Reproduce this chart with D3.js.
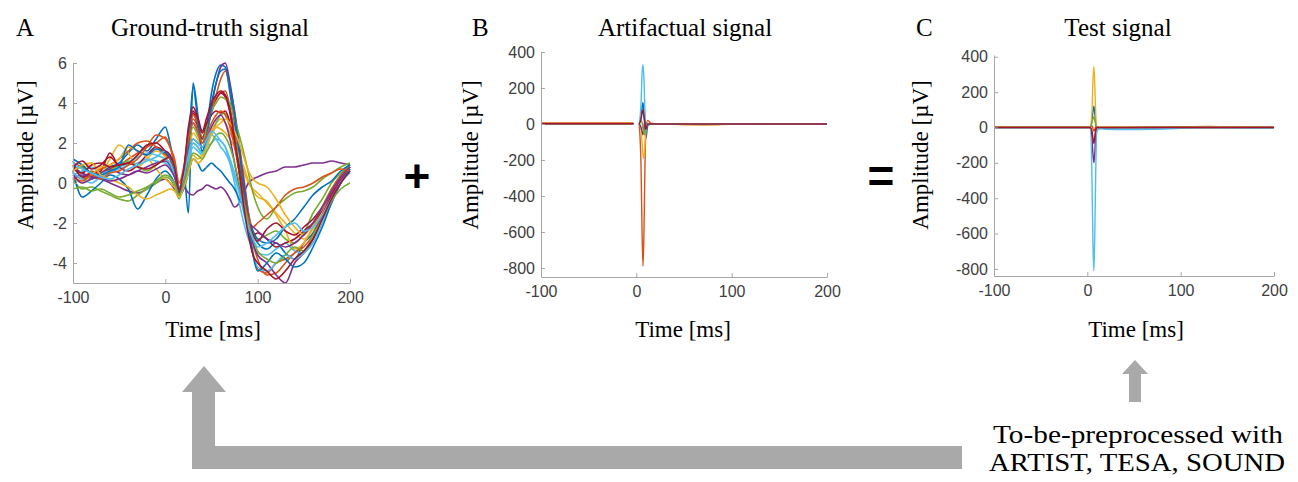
<!DOCTYPE html>
<html>
<head>
<meta charset="utf-8">
<script src="https://cdn.jsdelivr.net/npm/d3@7"></script>
<style>
  body { margin: 0; background: #fff; }
  svg { display: block; }
</style>
</head>
<body>
<div id="fig"></div>
<script>
// MATLAB default colour order
const colors = ["#0072BD", "#D95319", "#EDB120", "#7E2F8E", "#77AC30", "#4DBEEE", "#A2142F"];

// time axis for panel A (ms)
const timeA = [-100, -90, -80, -70, -60, -50, -40, -30, -20, -10, 0,
  5, 10, 15, 20, 25, 30, 35, 40, 45, 50, 55, 60, 65, 70, 75, 80, 85, 90, 95, 100,
  110, 120, 130, 140, 150, 160, 170, 180, 190, 200];

// ground-truth traces (uV), one per channel
const truth = [
  [1.1,0.3,0.2,0.5,0.8,1.0,1.5,1.9,1.6,2.2,2.8, 2.0,0.8,-0.5,0.5,-1.5,5.0,3.5,1.5,2.8,4.5,5.5,5.9,5.8,4.5,3.0,1.5,0.0,-1.5,-2.5,-3.0, -3.3,-3.0,-3.5,-3.8,-3.0,-2.5,-1.5,-0.5,0.3,0.8],
  [0.5,0.2,0.6,0.4,0.7,0.9,1.2,1.5,1.8,2.0,2.3, 1.8,1.0,-0.3,0.3,1.8,3.2,2.8,2.0,2.6,3.5,4.2,4.5,4.6,3.8,2.5,1.0,-0.5,-2.0,-3.5,-4.3, -4.5,-4.0,-3.8,-3.5,-3.0,-2.2,-1.2,-0.3,0.4,0.9],
  [0.0,0.6,1.0,0.5,1.2,1.9,1.5,0.8,1.2,1.6,1.3, 0.9,0.5,-0.2,0.4,1.5,2.5,2.2,1.8,2.0,2.6,3.0,3.2,3.0,2.5,2.0,1.2,0.6,0.0,-0.3,-0.5, -1.0,-1.5,-2.0,-2.5,-2.8,-2.3,-1.5,-0.6,0.2,0.5],
  [0.8,0.5,0.3,0.2,0.0,-0.2,-0.4,-0.5,-0.3,0.0,0.2, 0.0,-0.3,-0.6,-0.2,-0.5,-0.6,-0.4,-0.3,-0.1,-0.2,-0.3,-0.2,-0.4,-0.8,-1.2,-1.0,-0.5,0.0,0.2,0.3, 0.5,0.6,0.8,0.8,0.9,1.0,1.0,1.1,1.0,0.9],
  [0.2,-0.3,-0.2,-0.4,-0.6,-0.8,-0.9,-0.6,-0.3,0.0,0.3, 0.2,-0.2,-0.8,0.0,1.2,2.0,1.8,1.5,1.9,2.5,3.0,3.4,3.5,3.0,2.2,1.0,-0.5,-1.8,-2.5,-2.8, -2.6,-2.4,-2.8,-3.0,-2.5,-1.5,-0.8,0.0,0.5,0.9],
  [0.4,0.6,0.8,0.5,0.6,0.7,0.9,1.0,1.2,1.1,1.0, 0.8,0.3,-0.4,0.2,1.0,1.8,1.6,1.4,1.8,2.0,2.2,2.1,1.8,1.0,0.0,-1.0,-2.0,-2.8,-3.2,-3.5, -3.6,-3.3,-3.0,-3.4,-3.5,-2.8,-1.8,-0.8,0.0,0.6],
  [0.9,0.3,0.5,0.6,1.5,0.8,0.6,0.9,1.4,1.8,1.5, 1.2,0.6,-0.4,0.5,2.0,3.5,2.9,2.2,3.0,3.8,4.2,4.5,4.3,3.5,2.0,0.5,-1.0,-2.2,-2.6,-2.5, -2.8,-3.2,-3.0,-2.8,-2.4,-2.0,-1.4,-0.6,0.2,0.8],
  [0.6,-0.7,-0.4,0.0,0.4,0.2,-0.3,-1.3,-0.6,0.2,0.6, 0.4,0.0,-0.6,-0.3,0.5,1.2,1.0,0.6,0.8,1.0,0.8,0.6,0.3,0.0,-0.3,-0.8,-1.2,-1.8,-2.4,-2.8, -3.0,-2.8,-2.2,-1.8,-1.2,-0.6,-0.2,0.1,0.6,0.9],
  [1.0,0.8,0.5,0.7,0.9,1.2,1.6,2.0,2.1,1.8,1.4, 1.2,0.7,-0.2,0.6,2.4,3.4,3.0,2.3,2.8,3.6,4.4,5.2,5.6,4.8,3.6,2.0,0.3,-1.5,-3.0,-3.8, -4.6,-4.5,-4.0,-3.5,-3.2,-2.6,-1.6,-0.6,0.2,0.6],
  [0.3,0.0,0.4,0.8,0.9,1.2,1.8,1.6,1.3,0.7,0.2, 0.0,-0.2,-0.5,0.0,0.8,1.4,1.2,1.4,2.0,2.6,2.8,2.7,2.5,2.2,1.8,1.3,0.8,0.1,-0.4,-0.7, -0.9,-1.6,-2.4,-3.3,-3.0,-2.2,-1.5,-0.5,0.3,0.7],
  [0.2,0.4,0.3,0.5,0.7,0.5,0.4,0.6,0.8,1.0,1.1, 0.9,0.4,-0.5,0.4,2.0,3.0,2.6,2.2,2.9,4.0,5.0,5.8,6.0,5.0,3.5,1.8,0.0,-1.8,-3.0,-3.6, -4.0,-4.6,-5.0,-4.0,-3.5,-2.8,-1.6,-0.6,0.2,0.7],
  [0.6,0.8,0.5,0.3,0.6,0.9,1.1,0.8,0.6,0.9,1.2, 1.0,0.6,-0.3,0.5,1.8,2.8,2.4,2.0,2.8,3.6,4.0,4.3,4.2,4.0,3.2,2.4,1.5,0.5,-0.5,-1.2, -1.8,-1.2,-0.8,-0.5,-0.4,-0.2,0.2,0.5,0.8,1.0],
  [0.5,0.2,0.0,0.3,0.5,0.8,1.0,1.3,1.5,1.4,1.2, 1.0,0.4,-0.3,0.3,1.2,2.0,1.8,1.5,2.0,2.4,2.2,1.8,1.5,1.0,0.3,-0.5,-1.5,-2.5,-3.6,-4.2, -4.4,-4.0,-3.6,-3.8,-3.5,-3.0,-2.0,-1.0,0.0,0.5],
  [0.7,0.5,0.9,1.0,0.8,0.9,1.0,0.8,0.7,0.9,1.2, 1.3,0.8,-0.4,0.6,2.6,3.6,3.2,2.5,3.0,3.4,3.6,3.5,3.6,3.0,2.0,0.8,-0.5,-1.8,-2.6,-2.9, -2.3,-2.0,-2.4,-2.6,-2.2,-1.8,-1.2,-0.5,0.3,0.8],
  [1.2,0.9,0.5,0.4,0.6,0.8,1.9,1.6,1.4,1.7,1.5, 1.3,0.7,-0.6,-0.2,1.8,4.8,3.2,1.6,2.4,3.8,5.0,5.6,5.7,4.8,3.4,1.6,-0.2,-2.0,-3.6,-4.4, -4.0,-3.5,-3.8,-4.2,-4.0,-3.2,-2.2,-1.0,0.0,0.7],
  [0.3,0.1,0.4,0.2,0.5,0.6,0.9,1.2,1.8,2.4,2.2, 1.8,1.2,0.0,0.8,2.2,3.0,2.6,2.0,2.4,3.0,3.4,3.6,3.4,2.8,1.8,0.6,-0.8,-1.8,-2.2,-2.0, -1.6,-1.2,-0.6,-0.3,-0.2,0.0,0.3,0.5,0.7,0.6],
  [0.6,0.9,1.0,0.4,0.2,0.0,-0.2,-0.6,-0.8,-0.6,-0.4, -0.3,-0.4,-0.7,-0.2,0.5,1.2,1.0,1.2,1.8,2.4,2.8,3.0,3.2,3.0,2.6,2.0,1.3,0.6,0.2,0.0, -0.2,-0.8,-1.6,-2.2,-2.6,-2.0,-1.2,-0.4,0.3,0.8],
  [0.4,0.0,0.2,0.3,0.1,0.2,0.4,0.6,0.5,0.7,0.9, 0.7,0.3,-0.4,0.2,1.5,2.2,2.0,1.8,2.2,2.8,3.2,3.4,3.0,2.2,1.0,-0.2,-1.3,-2.0,-2.2,-2.4, -2.8,-3.0,-3.2,-3.0,-2.6,-2.0,-1.2,-0.4,0.3,0.8],
  [-0.3,-0.2,-0.4,-0.3,-0.5,-0.7,-0.6,-0.4,-0.2,0.1,0.4, 0.3,0.0,-0.6,0.0,0.8,1.5,1.4,1.2,1.6,2.0,2.4,2.5,2.3,1.8,1.0,0.0,-1.0,-2.0,-2.8,-3.4, -3.8,-4.0,-3.6,-3.2,-3.4,-2.6,-1.8,-0.9,-0.3,0.0],
  [1.0,0.7,0.5,0.3,0.2,0.4,0.7,0.9,1.1,1.3,1.6, 1.4,0.8,-0.2,0.3,1.4,2.2,2.0,1.8,2.2,2.6,2.4,2.1,1.8,1.2,0.5,-0.4,-1.3,-2.2,-2.8,-3.2, -3.0,-2.6,-2.2,-2.0,-2.4,-2.2,-1.6,-0.8,0.0,0.6],
  [0.8,1.1,0.7,0.9,1.3,0.9,1.0,1.4,1.9,2.0,1.6, 1.4,0.8,-0.3,0.7,2.8,3.8,3.3,2.6,3.3,4.0,4.4,4.6,4.4,3.6,2.2,0.6,-1.2,-2.6,-3.6,-4.0, -4.4,-4.8,-4.4,-3.8,-3.4,-2.8,-1.8,-0.8,0.0,0.6]
];

// time axis for panels B and C (ms)
const timeArt = [-100, -50, -3, 0, 3, 5, 6, 7, 8, 9, 10, 12, 15, 20, 40, 70, 100, 130, 160, 200];

// artifact traces (uV); null = no data around the pulse
const artifact = [
  [2, 2, 2, null, 0, 40, 90, 120, 60, -20, -80, -10, 0, 2, 0, -2, 0, 1, 0, 0],
  [6, 6, 6, null, 0, -250, -600, -790, -600, -250, -30, 20, 5, 2, -2, -4, -1, 2, 0, 0],
  [3, 3, 3, null, 0, -30, -100, -170, -190, -120, -30, -5, 2, 1, -2, -5, -2, 1, 1, 0],
  [1, 1, 1, null, 0, -20, -40, -60, -20, 20, 5, 0, 0, 0, 0, 0, 0, 0, 0, 0],
  [0, 0, 0, null, 0, 20, 10, -30, -50, -60, -10, 0, 0, 0, 0, 0, 0, 0, 0, 0],
  [2, 2, 2, null, 0, 120, 280, 330, 250, 80, 0, -3, -2, -1, 0, 0, 0, 0, 0, 0],
  [1, 1, 1, null, 0, 30, 60, 80, 40, 10, -30, 0, 0, 0, 0, 0, 0, 0, 0, 0]
];

// test traces (uV)
const test = [
  [0, 0, 0, 0, 0, 40, 90, 120, 80, 20, 0, 0, -2, -3, -2, -2, 0, 0, 0, 0],
  [2, 2, 2, 2, 0, 10, -5, -20, -10, 5, 0, 0, 1, 2, 2, 3, 4, 6, 3, 2],
  [3, 3, 3, 3, 0, 100, 260, 345, 240, 80, 0, 2, 3, 3, 2, 2, 2, 3, 2, 2],
  [0, 0, 0, 0, 0, -60, -150, -200, -140, -40, 0, 0, -2, -2, -1, 0, 0, 0, 0, 0],
  [0, 0, 0, 0, 0, 30, 50, 60, 40, 20, 0, 0, 0, -1, 0, 0, 0, 0, 0, 0],
  [-1, -1, -1, -1, 0, -300, -650, -810, -600, -250, -30, -10, -8, -10, -12, -10, -4, 0, -2, -3],
  [0, 0, 0, 0, 0, -20, -60, -90, -50, -10, 0, 0, 0, 0, 0, 0, 0, 0, 0, 0]
];

const ticksX = [-100, 0, 100, 200];
const ticksA = [-4, -2, 0, 2, 4, 6];
const ticksBC = [-800, -600, -400, -200, 0, 200, 400];

const W = 1298, H = 482;
const serif = "'Liberation Serif', 'Times New Roman', serif";
const sans = "'Liberation Sans', Arial, sans-serif";

const svg = d3.select("#fig").append("svg")
    .attr("width", W)
    .attr("height", H)
    .style("font-family", serif);

svg.append("rect").attr("width", W).attr("height", H).attr("fill", "#fff");

// one panel: axes, traces, labels
function panel(p) {
    const x = d3.scaleLinear().domain([-100, 200]).range([p.left, p.right]);
    const y = d3.scaleLinear().domain(p.yDomain).range([p.bottom, p.top]);
    const g = svg.append("g");

    const line = d3.line()
        .defined(d => d[1] !== null)
        .x(d => x(d[0]))
        .y(d => y(d[1]))
        .curve(d3.curveMonotoneX);

    p.series.forEach((s, i) => {
        g.append("path")
            .datum(p.time.map((t, j) => [t, s[j]]))
            .attr("d", line)
            .attr("fill", "none")
            .attr("stroke", colors[i % colors.length])
            .attr("stroke-width", p.lw)
            .attr("stroke-linejoin", "round");
    });

    const fmt = d => String(d); // plain hyphen like MATLAB
    const ax = g.append("g")
        .attr("transform", `translate(0,${p.bottom})`)
        .call(d3.axisBottom(x).tickValues(ticksX).tickFormat(fmt)
            .tickSize(-4).tickSizeOuter(0).tickPadding(9));
    const ay = g.append("g")
        .attr("transform", `translate(${p.left},0)`)
        .call(d3.axisLeft(y).tickValues(p.yTicks).tickFormat(fmt)
            .tickSize(-4).tickSizeOuter(0).tickPadding(6));
    [ax, ay].forEach(a => {
        a.select(".domain").attr("stroke", "#a6a6a6");
        a.selectAll(".tick line").attr("stroke", "#a6a6a6");
        a.selectAll(".tick text")
            .attr("fill", "#404040")
            .style("font-family", sans)
            .style("font-size", "16px");
    });

    g.append("text")
        .attr("x", p.letterX).attr("y", 36)
        .style("font-size", "25px")
        .text(p.letter);
    g.append("text")
        .attr("x", p.titleX).attr("y", 36)
        .attr("text-anchor", "middle")
        .style("font-size", "25px")
        .text(p.title);
    g.append("text")
        .attr("x", p.xlabX).attr("y", 337)
        .attr("text-anchor", "middle")
        .style("font-size", "23px")
        .text("Time [ms]");
    g.append("text")
        .attr("transform", `translate(${p.ylabX},155) rotate(-90)`)
        .attr("text-anchor", "middle")
        .style("font-size", "23px")
        .text("Amplitude [\u00b5V]");
}

panel({
    time: timeA, series: truth, yDomain: [-5, 6], yTicks: ticksA, lw: 1.6,
    left: 73, right: 350, top: 63, bottom: 283,
    letter: "A", letterX: 16, title: "Ground-truth signal", titleX: 210,
    xlabX: 213, ylabX: 33
});
panel({
    time: timeArt, series: artifact, yDomain: [-850, 400], yTicks: ticksBC, lw: 1.4,
    left: 541, right: 827, top: 52, bottom: 277,
    letter: "B", letterX: 472, title: "Artifactual signal", titleX: 685,
    xlabX: 683, ylabX: 478
});
panel({
    time: timeArt, series: test, yDomain: [-840, 410], yTicks: ticksBC, lw: 1.4,
    left: 994, right: 1274, top: 55, bottom: 276,
    letter: "C", letterX: 916, title: "Test signal", titleX: 1118,
    xlabX: 1136, ylabX: 928
});

// operators between panels
svg.append("text").attr("x", 417).attr("y", 192)
    .attr("text-anchor", "middle")
    .style("font-family", sans).style("font-weight", "bold").style("font-size", "46px")
    .text("+");
svg.append("text").attr("x", 881).attr("y", 192)
    .attr("text-anchor", "middle")
    .style("font-family", sans).style("font-weight", "bold").style("font-size", "46px")
    .text("=");

// grey arrows
const arrowGrey = "#a9a9a9";
svg.append("path")
    .attr("d", "M962,446 L215,446 L215,392 L226,392 L204,366 L182,392 L192,392 L192,469 L962,469 Z")
    .attr("fill", arrowGrey);
svg.append("path")
    .attr("d", "M1129,402 L1129,374 L1122,374 L1135,360 L1148,374 L1141,374 L1141,402 Z")
    .attr("fill", arrowGrey);

svg.append("text").attr("x", 1138).attr("y", 443)
    .attr("text-anchor", "middle")
    .attr("textLength", 290).attr("lengthAdjust", "spacingAndGlyphs")
    .style("font-size", "25px")
    .text("To-be-preprocessed with");
svg.append("text").attr("x", 1137).attr("y", 471)
    .attr("text-anchor", "middle")
    .attr("textLength", 296).attr("lengthAdjust", "spacingAndGlyphs")
    .style("font-size", "25px")
    .text("ARTIST, TESA, SOUND");
</script>
</body>
</html>
